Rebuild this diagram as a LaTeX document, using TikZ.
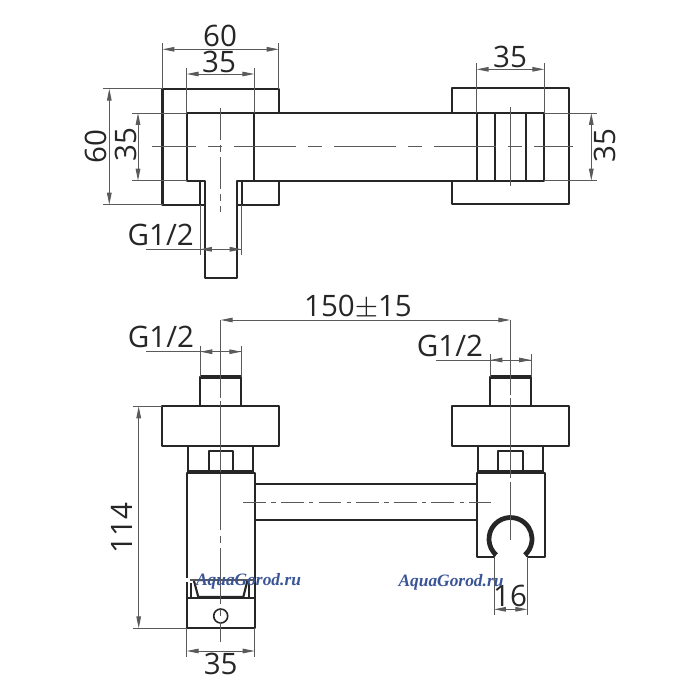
\documentclass[tikz,border=0pt]{standalone}
\usepackage{fontspec}
\setmainfont{Open Sans}
\newfontfamily\markfont{Liberation Serif}
\usetikzlibrary{arrows.meta}
\definecolor{inkline}{HTML}{262626}
\definecolor{thinline}{HTML}{5A5A5A}
\definecolor{markblue}{HTML}{3A5596}
\tikzset{
  body/.style={draw=inkline,line width=0.6pt,line join=round},
  heavy/.style={draw=inkline,line width=1.1pt},
  hair/.style={draw=thinline,line width=0.27pt},
  dimline/.style={hair,{Stealth[length=3.4pt,width=1.3pt,inset=0pt]}-{Stealth[length=3.4pt,width=1.3pt,inset=0pt]}},
  axis/.style={hair,line width=0.3pt,dash pattern=on 17.6pt off 3.4pt on 4pt off 3.4pt},
  axisv/.style={hair,dash pattern=on 9pt off 1.5pt on 2pt off 1.5pt},
  dimtext/.style={inner sep=0pt,font=\fontsize{8.4}{9}\selectfont,text=inkline},
  watermark/.style={inner sep=0pt,font=\markfont\bfseries\itshape\fontsize{4.95}{6}\selectfont,text=markblue}
}
\begin{document}
\begin{tikzpicture}[x=0.01cm,y=0.01cm,yscale=-1]
  \path[use as bounding box] (0,0) rectangle (700,700);
  % top view, left block
  \draw[body] (254.3,113) -- (278.7,113) -- (278.7,88.7) -- (162.5,88.7) -- (162.5,204.7) -- (200,204.7);
  \draw[body] (241.7,204.7) -- (278.7,204.7) -- (278.7,180.7) -- (254.3,180.7);
  \draw[body] (205,180.7) -- (186.7,180.7) -- (186.7,113) -- (254.3,113) -- (254.3,180.7) -- (236.7,180.7);
  \draw[body] (205,180.7) -- (205,277.7) -- (236.7,277.7) -- (236.7,180.7);
  \draw[body] (200,180.7) rectangle (205,204.7);
  \draw[body] (236.7,180.7) rectangle (241.7,204.7);
  % top view, bar
  \draw[body] (278.7,113) -- (476.7,113);
  \draw[body] (278.7,180.7) -- (476.7,180.7);
  % top view, right block
  \draw[body] (452,113) -- (452,88.3) -- (569,88.3) -- (569,204.3) -- (452,204.3) -- (452,180.7);
  \draw[body] (476.7,113) rectangle (544.3,180.7);
  \draw[body] (495.3,113) -- (495.3,180.7);
  \draw[body] (526.3,113) -- (526.3,180.7);
  % top view, axes
  \draw[axis,dash phase=5pt] (152,146.7) -- (573,146.7);
  \draw[axisv] (220.3,108) -- (220.3,211.6);
  \draw[hair] (510.3,107) -- (510.3,185.7);
  % top view, dimensions
  \begin{scope}[hair]
    \draw (162.5,43) -- (162.5,88.7);
    \draw (278.7,43) -- (278.7,88.7);
    \draw (186.7,68) -- (186.7,113);
    \draw (254.3,68) -- (254.3,113);
    \draw (103,88.7) -- (162.5,88.7);
    \draw (103,204.7) -- (162.5,204.7);
    \draw (132,113) -- (186.7,113);
    \draw (132,180.7) -- (186.7,180.7);
    \draw (200,204.7) -- (200,255);
    \draw (241.7,204.7) -- (241.7,255);
    \draw (146,249.3) -- (241.7,249.3);
    \draw (476.7,63) -- (476.7,113);
    \draw (544.3,63) -- (544.3,113);
    \draw (544.3,113) -- (597,113);
    \draw (544.3,180.7) -- (597,180.7);
  \end{scope}
  \draw[dimline] (162.5,49.3) -- (278.7,49.3);
  \draw[dimline] (186.7,74) -- (254.3,74);
  \draw[dimline] (109.3,88.7) -- (109.3,204.7);
  \draw[dimline] (138,113) -- (138,180.7);
  \draw[dimline] (200,249.3) -- (241.7,249.3);
  \draw[dimline] (476.7,69.3) -- (544.3,69.3);
  \draw[dimline] (591.3,113) -- (591.3,180.7);
  \node[dimtext] (wide60) at (220,36) {60};
  \node[dimtext] (wide35) at (219,62) {35};
  \node[dimtext,rotate=90] (high60) at (96,146.7) {60};
  \node[dimtext,rotate=90] (high35) at (126,145) {35};
  \node[dimtext] (threadtop) at (160.7,235) {G1/2};
  \node[dimtext] (rightwide35) at (510,57) {35};
  \node[dimtext,rotate=90] (righthigh35) at (604.7,145.7) {35};
  % front view, left part
  \draw[body] (200.3,406.3) -- (200.3,376.7) -- (241.3,376.7) -- (241.3,406.3);
  \draw[heavy] (200.3,376.7) -- (241.3,376.7);
  \draw[body] (162.3,406.3) rectangle (279.3,445.7);
  \draw[body] (188.3,445.7) -- (188.3,472) (253.3,445.7) -- (253.3,472);
  \draw[heavy] (188.3,471.5) -- (253.3,471.5);
  \draw[body] (208.7,471) -- (208.7,451) -- (233.3,451) -- (233.3,471);
  \draw[body] (186.7,578) -- (186.7,473.3) -- (254.7,473.3) -- (254.7,598.3);
  \draw[hair,line width=0.4pt] (190,580) -- (254.7,580);
  \draw[body] (186.7,598.3) rectangle (254.7,628.3);
  \draw[body] (186.7,582) -- (186.7,598.3);
  \draw[body] (190.7,583) -- (190.7,598) (249.3,583) -- (249.3,598);
  \draw[body] (194,581) -- (198.3,597) -- (243.3,597) -- (247.3,581);
  \node[circle,draw=inkline,line width=0.45pt,minimum size=1.4mm,inner sep=0pt] (plug) at (220.7,616) {};
  % front view, bar
  \draw[body] (254.7,484.3) -- (476.7,484.3);
  \draw[body] (254.7,520) -- (476.7,520);
  % front view, right part
  \draw[body] (490.3,406.3) -- (490.3,376.7) -- (531,376.7) -- (531,406.3);
  \draw[heavy] (490.3,376.7) -- (531,376.7);
  \draw[body] (452,406.3) rectangle (569.3,445.7);
  \draw[body] (478.3,445.7) -- (478.3,472) (542.7,445.7) -- (542.7,472);
  \draw[heavy] (478.3,471.5) -- (542.7,471.5);
  \draw[body] (498,471) -- (498,451) -- (522.7,451) -- (522.7,471);
  \draw[body] (494,556.7) -- (476.7,556.7) -- (476.7,473.3) -- (544.7,473.3) -- (544.7,556.7) -- (527.3,556.7);
  \draw[draw=inkline,line width=1.35pt] (510.5,539) ++(132:21.5) arc[start angle=132,end angle=408,radius=21.5];
  \draw[body] (494,556.7) -- (495.5,553) (527.3,556.7) -- (525.5,553);
  % front view, axes
  \draw[axis,dash pattern=on 6.5pt off 1.5pt on 1.2pt off 1.5pt] (243.3,502.3) -- (491,502.3);
  \draw[hair] (220.7,320) -- (220.7,398);
  \draw[hair] (220.7,401) -- (220.7,472);
  \draw[axisv,dash pattern=on 16pt off 1.5pt on 2pt off 1.5pt] (220.7,474) -- (220.7,642);
  \draw[hair] (510.3,320) -- (510.3,395);
  \draw[hair] (510.3,398) -- (510.3,478);
  \draw[hair] (510.3,482) -- (510.3,540);
  % front view, dimensions
  \begin{scope}[hair]
    \draw (200.3,345.7) -- (200.3,376.7);
    \draw (241.3,345.7) -- (241.3,376.7);
    \draw (146,351.7) -- (241.3,351.7);
    \draw (490.3,354) -- (490.3,376.7);
    \draw (531,354) -- (531,376.7);
    \draw (436,360) -- (531,360);
    \draw (132.7,406.3) -- (162.3,406.3);
    \draw (132.7,628.3) -- (186.7,628.3);
    \draw (186.7,628.3) -- (186.7,656.7);
    \draw (254.7,628.3) -- (254.7,656.7);
    \draw (494,556.7) -- (494,615);
    \draw (527.3,556.7) -- (527.3,615);
  \end{scope}
  \draw[dimline] (220.7,320) -- (510.3,320);
  \draw[dimline] (138.7,406.3) -- (138.7,628.3);
  \draw[dimline] (186.7,651) -- (254.7,651);
  \draw[dimline] (494,609.3) -- (527.3,609.3);
  \draw[dimline] (200.3,351.7) -- (241.3,351.7);
  \draw[dimline] (490.3,360) -- (531,360);
  \node[dimtext] (centres) at (358,307) {150$\pm$15};
  \node[dimtext] (threadleft) at (161,337) {G1/2};
  \node[dimtext] (threadright) at (450,345.7) {G1/2};
  \node[dimtext,rotate=90] (height114) at (122.3,528.3) {114};
  \node[dimtext] (bottom35) at (220.7,664) {35};
  \node[dimtext] (hook16) at (510,595.7) {16};
  \node[watermark] (markleft) at (248.5,581.5) {AquaGorod.ru};
  \node[watermark] (markright) at (451,582) {AquaGorod.ru};
\end{tikzpicture}
\end{document}
